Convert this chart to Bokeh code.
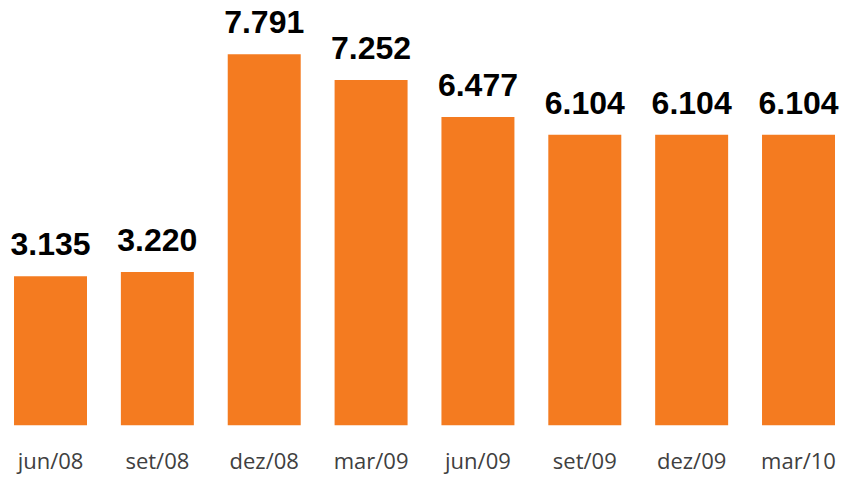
from bokeh.plotting import figure
from bokeh.models import ColumnDataSource, Range1d, FixedTicker
from bokeh.core.properties import value
from bokeh.embed import file_html
from bokeh.resources import INLINE

categories = ["jun/08", "set/08", "dez/08", "mar/09", "jun/09", "set/09", "dez/09", "mar/10"]
values = [3.135, 3.220, 7.791, 7.252, 6.477, 6.104, 6.104, 6.104]
labels = ["3.135", "3.220", "7.791", "7.252", "6.477", "6.104", "6.104", "6.104"]

x = list(range(len(categories)))
src = ColumnDataSource(dict(x=x, top=values, label=labels))

p = figure(width=843, height=477, output_backend="svg", toolbar_location=None,
           x_range=Range1d(-0.468, 7.421), y_range=Range1d(0, 8.92),
           min_border_left=0, min_border_right=0, min_border_top=0, min_border_bottom=51)
p.outline_line_color = None
p.background_fill_color = "white"
p.border_fill_color = "white"

p.vbar(x="x", top="top", bottom=0, width=0.683, source=src,
       fill_color="#F47B20", line_color=None)

p.text(x="x", y="top", text="label", source=src, text_align="center",
       text_baseline="alphabetic", y_offset=-32,
       text_font=value("Liberation Sans"), text_font_style="bold",
       text_font_size="32px", text_color="black")

p.yaxis.visible = False
p.xgrid.visible = False
p.ygrid.visible = False
p.xaxis.ticker = FixedTicker(ticks=x)
p.xaxis.major_label_overrides = {i: c for i, c in zip(x, categories)}
p.xaxis.axis_line_color = None
p.xaxis.major_tick_line_color = None
p.xaxis.minor_tick_line_color = None
p.xaxis.major_tick_out = 0
p.xaxis.major_label_standoff = 19
p.xaxis.major_label_text_font = "Open Sans"
p.xaxis.major_label_text_font_size = "22px"
p.xaxis.major_label_text_color = "#404040"

open("out.html", "w").write(file_html(p, INLINE))
